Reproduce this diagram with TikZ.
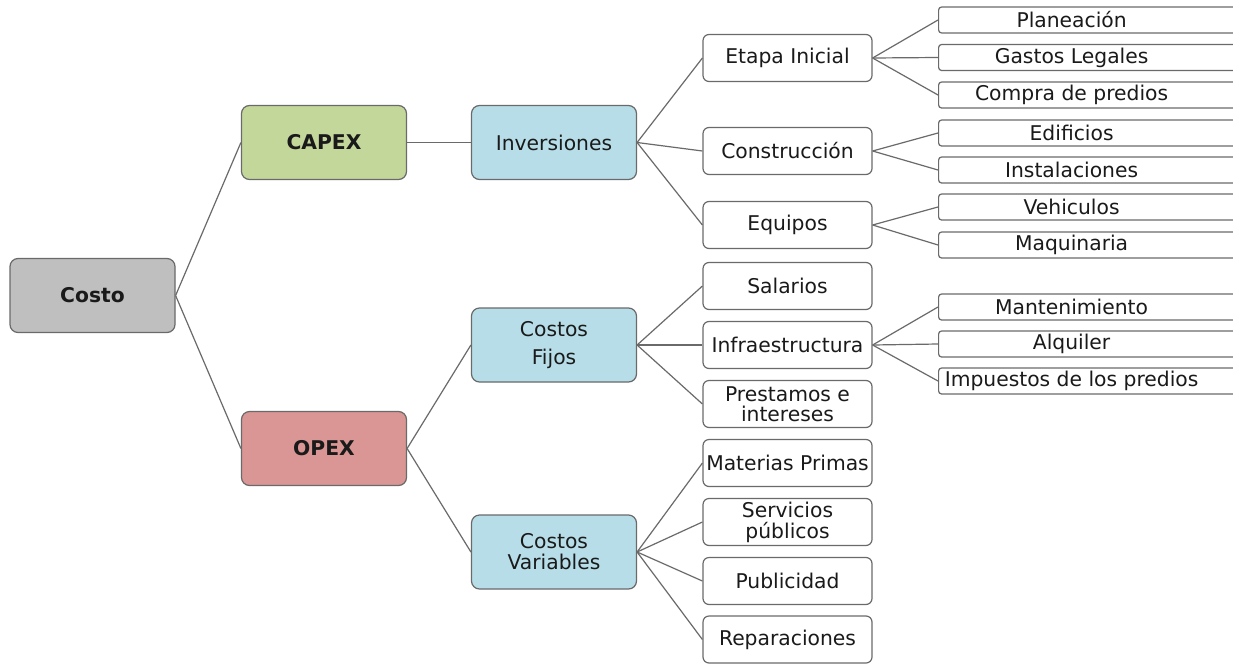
\documentclass[tikz,border=0pt]{standalone}
\usepackage{fontspec}
\setmainfont{DejaVu Sans}
\definecolor{txt}{HTML}{1A1A1A}
\definecolor{edge}{HTML}{6A6A6A}
\definecolor{gfill}{HTML}{BFBFBF}
\definecolor{cfill}{HTML}{C4D79B}
\definecolor{ofill}{HTML}{DA9694}
\definecolor{bfill}{HTML}{B7DEE8}
\newcommand{\leaftext}[1]{\makebox[266pt][c]{#1}\hspace*{40pt}}
\begin{document}
\begin{tikzpicture}[x=1pt,y=-1pt,
  every node/.style={text=txt, font=\fontsize{20.3}{22}\selectfont},
  bigbox/.style={draw=edge, line width=1.2pt, rounded corners=8pt, minimum width=165pt, minimum height=74pt, align=center, inner sep=2pt},
  midbox/.style={draw=edge, line width=1.2pt, rounded corners=6pt, fill=white, minimum width=169pt, minimum height=47pt, align=center, inner xsep=0pt, inner ysep=1pt},
  leafbox/.style={draw=edge, line width=1.2pt, rounded corners=3pt, fill=white, minimum height=26pt, inner xsep=0pt, inner ysep=0pt, anchor=west},
  conn/.style={draw=edge, line width=1.2pt}
]
\useasboundingbox (0,0) rectangle (1233,664);
\clip (0,0) rectangle (1233,664);
\fill[white] (0,0) rectangle (1233,664);

% level 0
\node[bigbox, fill=gfill, font=\fontsize{20.3}{22}\selectfont\bfseries] (costo) at (92.5,295.5) {Costo};
% level 1
\node[bigbox, fill=cfill, font=\fontsize{20.3}{22}\selectfont\bfseries] (capex) at (324,142.5) {CAPEX};
\node[bigbox, fill=ofill, font=\fontsize{20.3}{22}\selectfont\bfseries] (opex) at (324,448.5) {OPEX};
% level 2
\node[bigbox, fill=bfill] (inv) at (554,142.5) {Inversiones};
\node[bigbox, fill=bfill, font=\fontsize{20.3}{28}\selectfont] (fijos) at (554,345) {Costos\\Fijos};
\node[bigbox, fill=bfill, font=\fontsize{20.3}{21}\selectfont] (var) at (554,552) {Costos\\Variables};
% level 3
\node[midbox] (etapa) at (787.5,58) {Etapa Inicial};
\node[midbox] (constr) at (787.5,151) {Construcción};
\node[midbox] (equipos) at (787.5,225) {Equipos};
\node[midbox] (salarios) at (787.5,286) {Salarios};
\node[midbox] (infra) at (787.5,345) {Infraestructura};
\node[midbox, font=\fontsize{20.3}{20}\selectfont] (prest) at (787.5,404) {Prestamos e\\intereses};
\node[midbox] (mat) at (787.5,463) {Materias Primas};
\node[midbox, font=\fontsize{20.3}{21}\selectfont] (serv) at (787.5,522) {Servicios\\públicos};
\node[midbox] (publ) at (787.5,581) {Publicidad};
\node[midbox] (rep) at (787.5,639.5) {Reparaciones};
% leaves
\node[leafbox] (plan) at (938,20) {\leaftext{Planeación}};
\node[leafbox] (gastos) at (938,57.5) {\leaftext{Gastos Legales}};
\node[leafbox] (compra) at (938,95) {\leaftext{Compra de predios}};
\node[leafbox] (edif) at (938,133) {\leaftext{Edificios}};
\node[leafbox] (inst) at (938,170) {\leaftext{Instalaciones}};
\node[leafbox] (vehi) at (938,207) {\leaftext{Vehiculos}};
\node[leafbox] (maq) at (938,245) {\leaftext{Maquinaria}};
\node[leafbox] (mant) at (938,307) {\leaftext{Mantenimiento}};
\node[leafbox] (alq) at (938,344) {\leaftext{Alquiler}};
\node[leafbox] (imp) at (938,381) {\leaftext{Impuestos de los predios}};

% connectors
\draw[conn] (costo.east) -- (capex.west);
\draw[conn] (costo.east) -- (opex.west);
\draw[conn] (capex.east) -- (inv.west);
\draw[conn] (opex.east) -- (fijos.west);
\draw[conn] (opex.east) -- (var.west);
\foreach \c in {etapa,constr,equipos} \draw[conn] (inv.east) -- (\c.west);
\foreach \c in {salarios,infra,prest} \draw[conn] (fijos.east) -- (\c.west);
\foreach \c in {mat,serv,publ,rep} \draw[conn] (var.east) -- (\c.west);
\foreach \c in {plan,gastos,compra} \draw[conn] (etapa.east) -- (\c.west);
\foreach \c in {edif,inst} \draw[conn] (constr.east) -- (\c.west);
\foreach \c in {vehi,maq} \draw[conn] (equipos.east) -- (\c.west);
\foreach \c in {mant,alq,imp} \draw[conn] (infra.east) -- (\c.west);
\end{tikzpicture}
\end{document}
